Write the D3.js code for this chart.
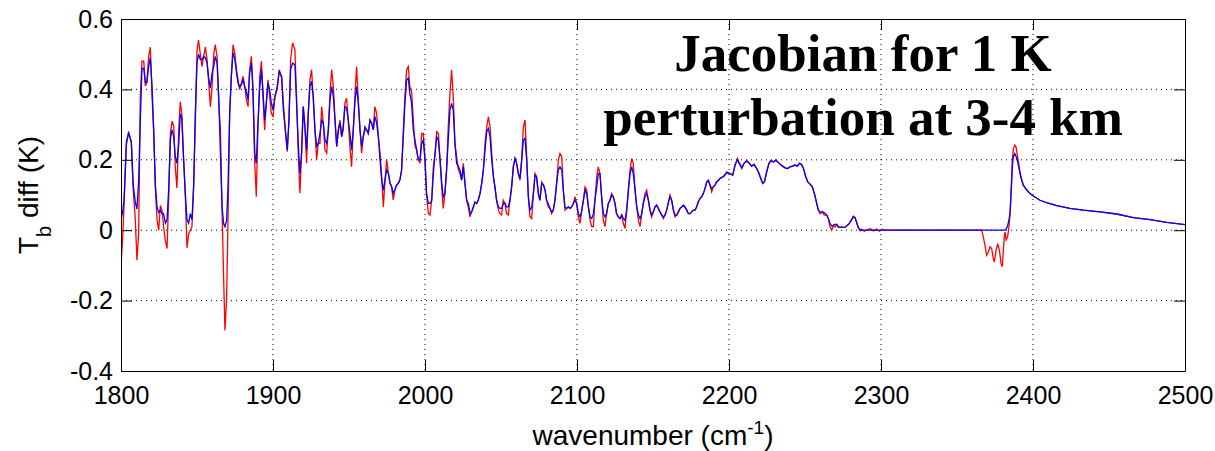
<!DOCTYPE html>
<html lang="en">
<head>
<meta charset="UTF-8">
<title>Jacobian for 1 K perturbation at 3-4 km</title>
<script src="https://cdn.jsdelivr.net/npm/d3@7"></script>
<style>
    body { margin: 0; background: #fff; }
    .tick text { font-family: "Liberation Sans", Arial, sans-serif; font-size: 25px; fill: #000; }
    .axis path, .axis line { stroke: #000; }
    .grid line { stroke: #000; stroke-width: 1; stroke-dasharray: 1,4; }
    .label { font-family: "Liberation Sans", Arial, sans-serif; font-size: 28px; fill: #000; }
    .title { font-family: "Liberation Serif", "Times New Roman", serif; font-weight: bold; font-size: 53px; fill: #000; }
</style>
</head>
<body>
<div id="chart"></div>
<script>
// wavenumber grid (cm-1)
const wavenumber = [
    1800.0,1801.0,1802.0,1803.5,1805.0,1806.8,1808.0,1809.4,1810.5,1811.6,
    1812.7,1813.8,1815.0,1816.0,1817.0,1818.2,1819.3,1820.4,1821.5,1822.6,
    1823.7,1824.8,1825.9,1827.0,1828.0,1829.2,1830.3,1831.4,1832.5,1833.6,
    1834.7,1835.7,1836.8,1838.0,1839.0,1840.0,1841.2,1842.3,1843.4,1844.5,
    1845.6,1846.7,1847.8,1848.9,1850.0,1851.0,1852.2,1853.3,1854.4,1855.5,
    1856.6,1857.7,1858.8,1859.9,1861.0,1862.0,1863.2,1864.3,1865.4,1866.5,
    1867.5,1868.4,1869.5,1870.4,1871.5,1872.6,1873.7,1874.8,1876.0,1877.0,
    1878.0,1879.2,1880.3,1881.4,1882.5,1883.6,1884.6,1885.8,1886.8,1888.0,
    1889.0,1890.0,1891.3,1892.4,1893.5,1894.5,1895.6,1896.7,1897.8,1898.9,
    1900.0,1901.3,1902.8,1904.1,1905.7,1906.8,1908.3,1909.4,1910.5,1911.6,
    1912.9,1914.4,1915.5,1916.6,1917.7,1918.8,1919.9,1921.0,1922.1,1923.2,
    1924.3,1925.4,1926.5,1927.6,1928.7,1929.8,1930.9,1932.0,1933.1,1934.2,
    1935.3,1936.4,1937.5,1938.6,1939.7,1940.8,1941.9,1943.0,1944.1,1945.2,
    1946.2,1947.3,1948.4,1949.5,1950.6,1951.7,1952.8,1954.0,1955.0,1956.1,
    1957.2,1958.3,1959.4,1960.5,1961.6,1962.7,1963.8,1964.9,1966.0,1967.0,
    1968.2,1969.3,1970.4,1971.5,1972.6,1973.7,1974.8,1975.9,1977.0,1978.0,
    1979.1,1980.2,1981.3,1982.4,1983.5,1984.6,1985.7,1986.8,1987.9,1989.0,
    1990.0,1991.2,1992.3,1993.4,1994.5,1995.6,1996.7,1997.8,1998.9,2000.0,
    2001.0,2002.2,2003.3,2004.4,2005.5,2006.6,2007.7,2008.8,2009.9,2011.0,
    2012.0,2013.1,2014.2,2015.3,2016.4,2017.5,2018.6,2019.7,2020.8,2022.0,
    2023.0,2024.1,2025.2,2026.3,2027.4,2028.5,2029.6,2030.7,2031.8,2032.9,
    2034.0,2035.0,2036.2,2037.3,2038.4,2039.5,2040.6,2041.7,2042.8,2043.9,
    2045.0,2046.0,2047.1,2048.3,2049.3,2050.4,2051.5,2052.6,2053.7,2054.8,
    2055.9,2057.0,2058.1,2059.2,2060.3,2061.4,2062.5,2063.6,2064.7,2065.8,
    2066.9,2068.0,2069.0,2070.2,2071.3,2072.4,2073.4,2074.6,2075.6,2076.8,
    2078.0,2079.0,2080.0,2081.1,2082.2,2083.3,2084.4,2085.5,2086.6,2087.7,
    2088.8,2090.0,2091.0,2092.1,2093.2,2094.3,2095.4,2096.5,2097.6,2098.7,
    2099.8,2100.9,2102.0,2103.0,2104.2,2105.3,2106.4,2107.5,2108.6,2109.7,
    2110.8,2111.8,2113.0,2114.0,2115.1,2116.2,2117.3,2118.4,2119.5,2120.6,
    2121.7,2122.8,2123.9,2125.0,2126.0,2127.2,2128.3,2129.4,2130.5,2131.6,
    2132.7,2133.8,2134.9,2136.0,2137.0,2138.2,2139.3,2140.4,2141.5,2142.6,
    2143.6,2144.7,2145.8,2147.0,2148.0,2149.1,2150.2,2151.3,2152.4,2153.5,
    2154.6,2155.7,2156.8,2157.9,2159.0,2160.0,2161.2,2162.3,2163.4,2164.5,
    2165.6,2166.7,2167.8,2168.9,2170.0,2171.0,2172.2,2173.3,2174.3,2175.4,
    2176.5,2177.6,2178.7,2179.8,2180.9,2182.0,2183.1,2184.2,2185.3,2186.4,
    2187.5,2188.6,2189.7,2190.8,2191.9,2193.0,2194.1,2196.3,2198.5,2200.7,
    2202.4,2204.0,2205.5,2206.8,2208.4,2209.9,2211.6,2213.4,2214.9,2216.5,
    2217.8,2219.3,2220.9,2222.2,2223.3,2224.8,2226.3,2227.7,2229.2,2230.7,
    2232.1,2233.6,2235.3,2236.9,2238.6,2240.2,2241.9,2243.4,2245.0,2246.3,
    2247.8,2249.0,2250.5,2251.8,2253.3,2254.8,2256.2,2257.7,2258.8,2259.9,
    2261.4,2262.7,2264.3,2265.4,2266.5,2267.6,2268.7,2269.8,2271.0,2272.0,
    2273.0,2274.1,2275.2,2276.3,2277.4,2278.5,2279.6,2280.7,2281.8,2282.9,
    2284.0,2285.1,2286.2,2287.3,2289.0,2291.0,2293.0,2295.0,2297.0,2299.0,
    2301.0,2302.0,2366.2,2367.3,2368.4,2369.5,2370.6,2371.7,2372.8,2373.9,
    2374.6,2375.7,2376.8,2377.9,2379.0,2379.8,2380.5,2381.1,2381.6,2382.3,
    2383.3,2384.2,2384.9,2385.8,2386.4,2387.1,2388.0,2388.8,2389.7,2390.6,
    2391.5,2392.6,2393.6,2395.9,2398.1,2400.2,2404.6,2409.0,2415.6,2424.3,
    2433.1,2444.1,2455.0,2466.0,2477.0,2488.0,2500.0
];

// red curve, Tb diff (K)
const tbRed = [
    -0.10,-0.03,0.07,0.24,0.28,0.25,0.12,0.03,-0.085,-0.01,
    0.38,0.48,0.48,0.41,0.42,0.495,0.52,0.385,0.28,0.12,
    0.03,0.0,0.07,0.057,0.01,-0.03,-0.052,0.095,0.275,0.31,
    0.295,0.18,0.12,0.285,0.365,0.33,0.2,0.1,-0.05,-0.01,
    0.0,0.01,0.133,0.31,0.51,0.54,0.5,0.465,0.494,0.52,
    0.485,0.418,0.351,0.408,0.499,0.527,0.494,0.361,0.285,0.057,
    -0.133,-0.285,-0.19,0.028,0.33,0.44,0.527,0.504,0.456,0.427,
    0.399,0.418,0.437,0.408,0.37,0.351,0.456,0.494,0.389,0.19,
    0.095,0.275,0.437,0.48,0.37,0.285,0.361,0.427,0.38,0.332,
    0.323,0.38,0.40,0.456,0.432,0.361,0.275,0.223,0.313,0.485,
    0.532,0.513,0.38,0.219,0.105,0.218,0.351,0.294,0.19,0.332,
    0.427,0.456,0.37,0.285,0.2,0.247,0.247,0.351,0.304,0.228,
    0.219,0.285,0.389,0.456,0.408,0.313,0.238,0.285,0.313,0.266,
    0.285,0.361,0.375,0.313,0.238,0.18,0.285,0.389,0.465,0.37,
    0.294,0.219,0.266,0.285,0.285,0.275,0.313,0.304,0.285,0.351,
    0.332,0.266,0.219,0.152,0.066,0.143,0.2,0.162,0.133,0.124,
    0.086,0.114,0.128,0.133,0.143,0.171,0.275,0.38,0.456,0.465,
    0.408,0.394,0.313,0.238,0.228,0.2,0.19,0.275,0.275,0.199,
    0.104,0.047,0.043,0.085,0.18,0.218,0.28,0.275,0.199,0.123,
    0.062,0.104,0.171,0.294,0.389,0.455,0.379,0.246,0.209,0.171,
    0.161,0.142,0.19,0.133,0.085,0.066,0.038,0.052,0.066,0.08,
    0.076,0.085,0.104,0.133,0.171,0.246,0.294,0.322,0.294,0.218,
    0.152,0.123,0.085,0.057,0.047,0.043,0.085,0.076,0.047,0.043,
    0.085,0.123,0.18,0.204,0.19,0.161,0.142,0.199,0.294,0.313,
    0.209,0.095,0.038,0.033,0.104,0.161,0.152,0.104,0.085,0.137,
    0.128,0.114,0.085,0.066,0.062,0.047,0.057,0.085,0.133,0.199,
    0.218,0.209,0.114,0.057,0.062,0.066,0.062,0.066,0.076,0.095,
    0.076,0.038,0.019,0.052,0.085,0.123,0.114,0.066,0.028,0.01,
    0.01,0.085,0.152,0.18,0.161,0.095,0.028,0.01,0.047,0.076,
    0.085,0.104,0.095,0.076,0.047,0.038,0.033,0.043,0.019,0.005,
    0.057,0.114,0.171,0.204,0.19,0.114,0.066,0.028,0.01,0.047,
    0.076,0.104,0.114,0.085,0.057,0.038,0.052,0.066,0.071,0.062,
    0.052,0.043,0.033,0.043,0.057,0.076,0.1,0.085,0.057,0.038,
    0.043,0.052,0.062,0.066,0.071,0.066,0.057,0.047,0.047,0.052,
    0.057,0.057,0.066,0.081,0.09,0.095,0.104,0.118,0.137,0.142,
    0.128,0.109,0.123,0.128,0.137,0.142,0.147,0.152,0.166,0.161,
    0.156,0.185,0.204,0.19,0.175,0.19,0.199,0.19,0.182,0.187,
    0.178,0.166,0.147,0.133,0.137,0.166,0.19,0.199,0.194,0.199,
    0.194,0.187,0.182,0.177,0.175,0.18,0.182,0.185,0.182,0.19,
    0.187,0.175,0.152,0.137,0.131,0.123,0.104,0.076,0.057,0.047,
    0.052,0.043,0.043,0.033,0.009,0.0,0.014,0.009,0.016,0.009,
    0.009,0.009,0.008,0.009,0.012,0.016,0.022,0.03,0.04,0.036,
    0.022,0.007,-0.002,0.003,-0.003,0.002,0.004,-0.002,0.003,-0.003,
    0.003,0,0,-0.019,-0.043,-0.071,-0.062,-0.047,-0.052,-0.081,
    -0.09,-0.057,-0.038,-0.057,-0.095,-0.104,-0.057,-0.019,-0.005,-0.028,
    -0.019,0.01,0.047,0.13,0.2,0.232,0.242,0.237,0.213,0.19,
    0.161,0.142,0.128,0.114,0.104,0.097,0.085,0.078,0.07,0.062,
    0.057,0.052,0.046,0.036,0.03,0.022,0.016
];

// blue curve, Tb diff (K)
const tbBlue = [
    0.03,0.05,0.085,0.25,0.275,0.25,0.13,0.08,0.06,0.14,
    0.31,0.46,0.46,0.42,0.42,0.465,0.49,0.41,0.285,0.13,
    0.066,0.05,0.057,0.047,0.047,0.02,0.03,0.12,0.26,0.285,
    0.265,0.21,0.19,0.246,0.33,0.32,0.2,0.105,0.03,0.02,
    0.047,0.03,0.123,0.33,0.475,0.5,0.485,0.485,0.494,0.49,
    0.475,0.432,0.404,0.446,0.465,0.494,0.475,0.38,0.219,0.066,
    0.019,0.01,0.028,0.123,0.332,0.437,0.504,0.489,0.446,0.418,
    0.408,0.413,0.427,0.408,0.394,0.37,0.446,0.475,0.408,0.219,
    0.19,0.294,0.408,0.456,0.389,0.313,0.361,0.418,0.399,0.361,
    0.342,0.38,0.41,0.45,0.437,0.342,0.275,0.228,0.313,0.456,
    0.475,0.47,0.361,0.247,0.161,0.218,0.351,0.294,0.228,0.332,
    0.408,0.423,0.38,0.285,0.238,0.247,0.275,0.313,0.304,0.256,
    0.247,0.285,0.37,0.408,0.38,0.313,0.238,0.285,0.304,0.266,
    0.294,0.351,0.347,0.313,0.275,0.228,0.285,0.37,0.408,0.361,
    0.285,0.238,0.266,0.294,0.285,0.275,0.313,0.304,0.285,0.323,
    0.304,0.266,0.2,0.143,0.114,0.143,0.171,0.162,0.133,0.124,
    0.105,0.114,0.128,0.133,0.143,0.171,0.266,0.361,0.427,0.432,
    0.389,0.361,0.285,0.256,0.228,0.2,0.2,0.246,0.256,0.199,
    0.104,0.076,0.076,0.085,0.161,0.218,0.265,0.256,0.199,0.133,
    0.095,0.104,0.171,0.256,0.341,0.36,0.341,0.246,0.19,0.18,
    0.171,0.142,0.18,0.133,0.085,0.076,0.047,0.052,0.066,0.08,
    0.076,0.085,0.104,0.133,0.171,0.228,0.28,0.289,0.265,0.199,
    0.152,0.123,0.085,0.066,0.062,0.062,0.076,0.076,0.066,0.066,
    0.085,0.123,0.18,0.204,0.19,0.161,0.147,0.199,0.256,0.261,
    0.199,0.095,0.057,0.066,0.104,0.156,0.152,0.104,0.085,0.133,
    0.128,0.114,0.085,0.076,0.062,0.052,0.057,0.085,0.133,0.171,
    0.18,0.171,0.114,0.066,0.062,0.066,0.062,0.066,0.076,0.085,
    0.076,0.047,0.038,0.052,0.085,0.114,0.104,0.066,0.038,0.033,
    0.047,0.085,0.123,0.161,0.161,0.095,0.047,0.038,0.047,0.076,
    0.085,0.1,0.095,0.076,0.047,0.038,0.033,0.043,0.033,0.028,
    0.057,0.114,0.161,0.18,0.161,0.114,0.066,0.043,0.033,0.047,
    0.076,0.095,0.104,0.085,0.057,0.043,0.052,0.066,0.071,0.062,
    0.052,0.043,0.038,0.043,0.057,0.076,0.095,0.085,0.057,0.043,
    0.043,0.052,0.062,0.066,0.071,0.066,0.057,0.047,0.047,0.052,
    0.057,0.057,0.066,0.081,0.09,0.095,0.104,0.118,0.137,0.142,
    0.128,0.118,0.123,0.128,0.137,0.142,0.147,0.152,0.163,0.161,
    0.156,0.185,0.2,0.19,0.178,0.19,0.196,0.19,0.182,0.187,
    0.178,0.166,0.147,0.133,0.137,0.166,0.19,0.197,0.194,0.199,
    0.194,0.187,0.182,0.177,0.175,0.18,0.182,0.185,0.182,0.19,
    0.187,0.175,0.152,0.137,0.131,0.123,0.104,0.076,0.057,0.052,
    0.052,0.05,0.043,0.033,0.019,0.012,0.014,0.017,0.016,0.009,
    0.009,0.009,0.008,0.009,0.012,0.016,0.022,0.03,0.038,0.036,
    0.022,0.007,0.002,0,0,0,0,0,0,0,
    0,0,0,0,0,0,0,0,0,0,
    0,0,0,0,0,0,0,0,0,0.003,
    0.012,0.03,0.047,0.123,0.18,0.21,0.218,0.21,0.199,0.18,
    0.161,0.142,0.128,0.114,0.104,0.097,0.085,0.078,0.07,0.062,
    0.057,0.052,0.046,0.036,0.03,0.022,0.016
];

const xTicks = [1800, 1900, 2000, 2100, 2200, 2300, 2400, 2500];
const yTicks = [-0.4, -0.2, 0, 0.2, 0.4, 0.6];
const titleLines = ["Jacobian for 1 K", "perturbation at 3-4 km"];

var margin = { top: 19, right: 30, bottom: 80, left: 121 },
    width = 1215 - margin.left - margin.right,
    height = 451 - margin.top - margin.bottom;

const svg = d3.select("#chart")
    .append("svg")
    .attr("width", 1215)
    .attr("height", 451);

const g = svg.append("g")
    .attr("transform", "translate(" + margin.left + "," + margin.top + ")");

const x = d3.scaleLinear().domain([1800, 2500]).range([0, width]);
const y = d3.scaleLinear().domain([-0.4, 0.6]).range([height, 0]);

const fmt = d => d === 0 ? "0" : d.toFixed(1);

// dotted grid
const grid = g.append("g").attr("class", "grid");
grid.selectAll(".gx")
    .data(xTicks.slice(1, -1))
    .enter().append("line")
    .attr("x1", d => x(d)).attr("x2", d => x(d))
    .attr("y1", 0).attr("y2", height);
grid.selectAll(".gy")
    .data(yTicks.slice(1, -1))
    .enter().append("line")
    .attr("x1", 0).attr("x2", width)
    .attr("y1", d => y(d)).attr("y2", d => y(d));

g.append("clipPath").attr("id", "clip")
    .append("rect").attr("width", width).attr("height", height);

const rows = wavenumber.map((w, i) => ({ w: w, red: tbRed[i], blue: tbBlue[i] }));

const lineRed = d3.line().x(d => x(d.w)).y(d => y(d.red));
const lineBlue = d3.line().x(d => x(d.w)).y(d => y(d.blue));

g.append("path")
    .datum(rows)
    .attr("clip-path", "url(#clip)")
    .attr("fill", "none")
    .attr("stroke", "#ff0000")
    .attr("stroke-width", 1.3)
    .attr("d", lineRed);

g.append("path")
    .datum(rows)
    .attr("clip-path", "url(#clip)")
    .attr("fill", "none")
    .attr("stroke", "#0000ff")
    .attr("stroke-width", 1.3)
    .attr("d", lineBlue);

// axes with inward ticks on all four sides
g.append("g").attr("class", "axis")
    .attr("transform", "translate(0," + height + ")")
    .call(d3.axisBottom(x).tickValues(xTicks).tickFormat(d3.format("d"))
        .tickSizeInner(-11).tickSizeOuter(0).tickPadding(15));

g.append("g").attr("class", "axis")
    .call(d3.axisLeft(y).tickValues(yTicks).tickFormat(fmt)
        .tickSizeInner(-11).tickSizeOuter(0).tickPadding(8));

g.append("g").attr("class", "axis")
    .call(d3.axisTop(x).tickValues(xTicks).tickFormat("")
        .tickSizeInner(-11).tickSizeOuter(0));

g.append("g").attr("class", "axis")
    .attr("transform", "translate(" + width + ",0)")
    .call(d3.axisRight(y).tickValues(yTicks).tickFormat("")
        .tickSizeInner(-11).tickSizeOuter(0));

g.selectAll(".axis .domain").attr("stroke", "#000");

// title inside the plot
g.append("text")
    .attr("class", "title")
    .attr("text-anchor", "middle")
    .selectAll("tspan")
    .data(titleLines)
    .enter().append("tspan")
    .attr("x", 742)
    .attr("y", (d, i) => 52 + i * 64)
    .text(d => d);

// x axis label
const xl = svg.append("text")
    .attr("class", "label")
    .attr("text-anchor", "middle")
    .attr("x", margin.left + width / 2)
    .attr("y", 445);
xl.append("tspan").text("wavenumber (cm");
xl.append("tspan").attr("font-size", "19px").attr("dy", -11).text("-1");
xl.append("tspan").attr("dy", 11).text(")");

// y axis label
const yl = svg.append("text")
    .attr("class", "label")
    .attr("text-anchor", "middle")
    .attr("transform", "translate(38," + (margin.top + height / 2) + ") rotate(-90)");
yl.append("tspan").text("T");
yl.append("tspan").attr("font-size", "20px").attr("dy", 13).text("b");
yl.append("tspan").attr("dy", -13).text(" diff (K)");
</script>
</body>
</html>
